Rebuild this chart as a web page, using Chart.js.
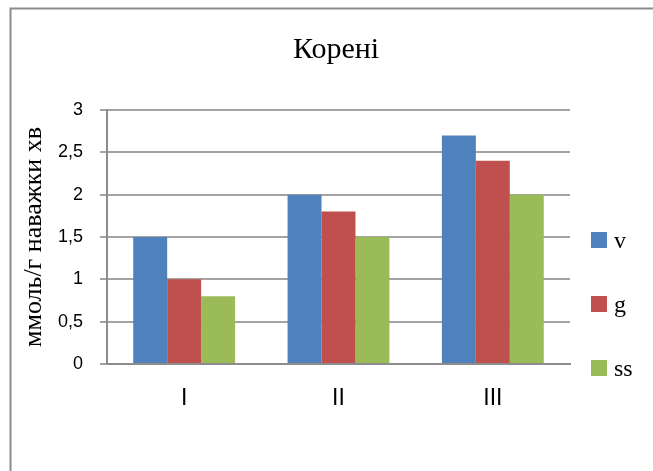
<!DOCTYPE html>
<html>
<head>
<meta charset="utf-8">
<script src="https://cdn.jsdelivr.net/npm/chart.js@4/dist/chart.umd.min.js"></script>
<style>
  html, body { margin: 0; padding: 0; background: #fff; }
  #chart { display: block; }
</style>
</head>
<body>
<canvas id="chart" width="653" height="471"></canvas>
<script>
// Categories and series values
const categories = ['I', 'II', 'III'];
const seriesNames = ['v', 'g', 'ss'];
const valuesV = [1.5, 2.0, 2.7];
const valuesG = [1.0, 1.8, 2.4];
const valuesSS = [0.8, 1.5, 2.0];
const seriesColors = ['#4F81BD', '#C0504D', '#9BBB59'];

// Axis settings
const yMin = 0;
const yMax = 3;
const yStep = 0.5;
const chartTitle = 'Корені';
const yAxisTitle = 'ммоль/г наважки хв';

const frameColor = '#8c8c8c';

// Outer frame, title and the side legend
const decorPlugin = {
  id: 'decor',
  beforeDraw(chart) {
    const ctx = chart.ctx;
    ctx.save();
    ctx.fillStyle = '#ffffff';
    ctx.fillRect(0, 0, chart.width, chart.height);
    ctx.strokeStyle = frameColor;
    ctx.lineWidth = 2;
    ctx.beginPath();
    ctx.moveTo(10.5, chart.height);
    ctx.lineTo(10.5, 8.5);
    ctx.lineTo(chart.width, 8.5);
    ctx.stroke();
    ctx.restore();
  },
  afterDraw(chart) {
    const ctx = chart.ctx;
    const area = chart.chartArea;
    ctx.save();
    // title
    ctx.fillStyle = '#000';
    ctx.font = '30px "Liberation Serif", "Times New Roman", serif';
    ctx.textAlign = 'center';
    ctx.textBaseline = 'alphabetic';
    ctx.fillText(chartTitle, 336, 58);
    // legend
    const boxX = area.right + 21;
    const firstY = 240;
    const gap = 64;
    ctx.font = '24px "Liberation Serif", "Times New Roman", serif';
    ctx.textAlign = 'left';
    chart.data.datasets.forEach((ds, i) => {
      const cy = firstY + i * gap;
      ctx.fillStyle = ds.backgroundColor;
      ctx.fillRect(boxX, cy - 8, 16, 16);
      ctx.fillStyle = '#000';
      ctx.fillText(ds.label, boxX + 23, cy + 8);
    });
    ctx.restore();
  }
};

const datasets = [valuesV, valuesG, valuesSS].map((vals, i) => ({
  label: seriesNames[i],
  data: vals,
  backgroundColor: seriesColors[i],
  borderWidth: 0,
  categoryPercentage: 0.66,
  barPercentage: 1.0
}));

new Chart(document.getElementById('chart'), {
  type: 'bar',
  data: { labels: categories, datasets },
  plugins: [decorPlugin],
  options: {
    responsive: false,
    animation: false,
    devicePixelRatio: 1,
    layout: { padding: { top: 110, left: 0, right: 83, bottom: 0 } },
    plugins: {
      legend: { display: false },
      title: { display: false },
      tooltip: { enabled: false }
    },
    scales: {
      x: {
        afterFit(scale) { scale.height = 107; },
        grid: { display: false, drawTicks: false },
        border: { display: true, color: frameColor, width: 2 },
        ticks: {
          color: '#000',
          padding: 21,
          font: { family: '"Liberation Sans", Arial, sans-serif', size: 23 }
        }
      },
      y: {
        min: yMin,
        max: yMax,
        afterFit(scale) { scale.width = 107; },
        grid: { color: '#a3a3a3', lineWidth: 2, drawTicks: true, tickLength: 7 },
        border: { display: true, color: frameColor, width: 2 },
        ticks: {
          stepSize: yStep,
          color: '#000',
          padding: 17,
          font: { family: '"Liberation Sans", Arial, sans-serif', size: 18 },
          callback: (v) => String(v).replace('.', ',')
        },
        title: {
          display: true,
          text: yAxisTitle,
          color: '#000',
          padding: { top: 19, bottom: 0 },
          font: { family: '"Liberation Serif", "Times New Roman", serif', size: 26 }
        }
      }
    }
  }
});
</script>
</body>
</html>
